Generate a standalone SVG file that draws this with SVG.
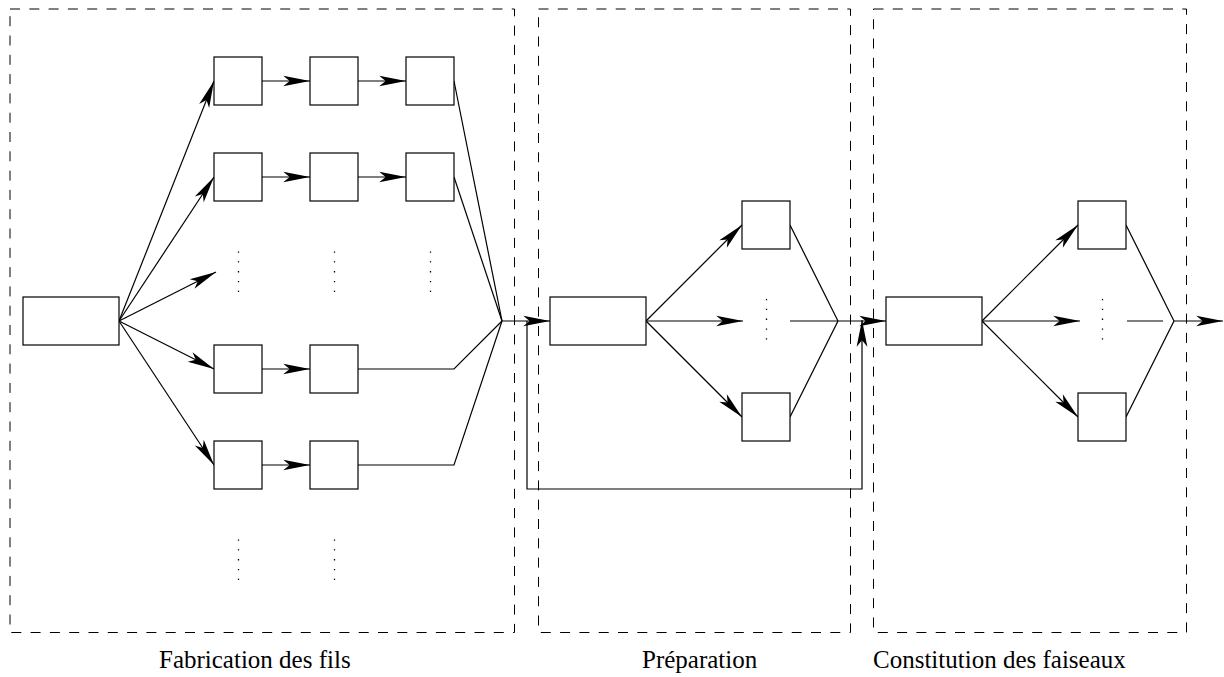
<svg xmlns="http://www.w3.org/2000/svg" width="1224" height="677" viewBox="0 0 1224 677">
<style>
.frame{fill:none;stroke:#000;stroke-width:1;stroke-dasharray:10 9.3}
.box{fill:#fff;stroke:#000;stroke-width:1.2}
.ln{fill:none;stroke:#000;stroke-width:1.2}
.ar{fill:none;stroke:#000;stroke-width:1.2;marker-end:url(#ah)}
.dots{fill:none;stroke:#000;stroke-width:1.3;stroke-dasharray:1.3 8.5}
.lbl{font-family:"Liberation Serif","Times New Roman",serif;font-size:25px;fill:#000}
</style>
<defs>
<marker id="ah" markerUnits="userSpaceOnUse" markerWidth="30" markerHeight="14" viewBox="-26 -6 28 12" refX="0" refY="0" orient="auto" overflow="visible">
<path d="M0,0 L-25,-5 L-19,0 L-25,5 Z" fill="#000"/>
</marker>
</defs>
<g id="frames">
<rect class="frame" x="10" y="9" width="504.5" height="623.5"/>
<rect class="frame" x="538.5" y="9" width="312" height="623.5"/>
<rect class="frame" x="873.5" y="9" width="313" height="623.5"/>
</g>
<g id="connectors">
<line class="ar" x1="119" y1="321" x2="214" y2="81"/>
<line class="ar" x1="119" y1="321" x2="214" y2="177"/>
<line class="ar" x1="119" y1="321" x2="216" y2="272"/>
<line class="ar" x1="119" y1="321" x2="214" y2="369"/>
<line class="ar" x1="119" y1="321" x2="214" y2="465"/>
<line class="ar" x1="262" y1="81" x2="310" y2="81"/>
<line class="ar" x1="358" y1="81" x2="406" y2="81"/>
<line class="ar" x1="262" y1="177" x2="310" y2="177"/>
<line class="ar" x1="358" y1="177" x2="406" y2="177"/>
<line class="ar" x1="262" y1="369" x2="310" y2="369"/>
<line class="ar" x1="262" y1="465" x2="310" y2="465"/>
<line class="ln" x1="454" y1="81" x2="502" y2="321"/>
<line class="ln" x1="454" y1="177" x2="502" y2="321"/>
<polyline class="ln" points="358,369 454,369 502,321"/>
<polyline class="ln" points="358,465 454,465 502,321"/>
<line class="ar" x1="502" y1="321" x2="550" y2="321"/>
<polyline class="ar" points="527,321 527,489 862,489 862,320"/>
<line class="ar" x1="646" y1="321" x2="742" y2="225"/>
<line class="ar" x1="646" y1="321" x2="742" y2="417"/>
<line class="ar" x1="646" y1="321" x2="743" y2="321"/>
<line class="ln" x1="790" y1="321" x2="838" y2="321"/>
<line class="ln" x1="790" y1="225" x2="838" y2="321"/>
<line class="ln" x1="790" y1="417" x2="838" y2="321"/>
<line class="ar" x1="838" y1="321" x2="886" y2="321"/>
<line class="ar" x1="982" y1="321" x2="1078" y2="225"/>
<line class="ar" x1="982" y1="321" x2="1078" y2="417"/>
<line class="ar" x1="982" y1="321" x2="1080" y2="321"/>
<line class="ln" x1="1127" y1="321" x2="1163" y2="321"/>
<line class="ln" x1="1126" y1="225" x2="1174" y2="321"/>
<line class="ln" x1="1126" y1="417" x2="1174" y2="321"/>
<line class="ar" x1="1174" y1="321" x2="1223" y2="321"/>
</g>
<g id="dots">
<line class="dots" x1="238.5" y1="251.5" x2="238.5" y2="292"/>
<line class="dots" x1="334.5" y1="251.5" x2="334.5" y2="292"/>
<line class="dots" x1="430.5" y1="251.5" x2="430.5" y2="292"/>
<line class="dots" x1="238.5" y1="539.5" x2="238.5" y2="580"/>
<line class="dots" x1="334.5" y1="539.5" x2="334.5" y2="580"/>
<line class="dots" x1="766.5" y1="299" x2="766.5" y2="340"/>
<line class="dots" x1="1102.5" y1="299" x2="1102.5" y2="340"/>
</g>
<g id="n-source"><rect class="box" x="23" y="297" width="96" height="48"/></g>
<g id="n-r1c1"><rect class="box" x="214" y="57" width="48" height="48"/></g>
<g id="n-r1c2"><rect class="box" x="310" y="57" width="48" height="48"/></g>
<g id="n-r1c3"><rect class="box" x="406" y="57" width="48" height="48"/></g>
<g id="n-r2c1"><rect class="box" x="214" y="153" width="48" height="48"/></g>
<g id="n-r2c2"><rect class="box" x="310" y="153" width="48" height="48"/></g>
<g id="n-r2c3"><rect class="box" x="406" y="153" width="48" height="48"/></g>
<g id="n-r3c1"><rect class="box" x="214" y="345" width="48" height="48"/></g>
<g id="n-r3c2"><rect class="box" x="310" y="345" width="48" height="48"/></g>
<g id="n-r4c1"><rect class="box" x="214" y="441" width="48" height="48"/></g>
<g id="n-r4c2"><rect class="box" x="310" y="441" width="48" height="48"/></g>
<g id="n-prep"><rect class="box" x="550" y="297" width="96" height="48"/></g>
<g id="n-prep-up"><rect class="box" x="742" y="201" width="48" height="48"/></g>
<g id="n-prep-down"><rect class="box" x="742" y="393" width="48" height="48"/></g>
<g id="n-const"><rect class="box" x="886" y="297" width="96" height="48"/></g>
<g id="n-const-up"><rect class="box" x="1078" y="201" width="48" height="48"/></g>
<g id="n-const-down"><rect class="box" x="1078" y="393" width="48" height="48"/></g>
<g id="labels">
<text class="lbl" x="159" y="668">Fabrication des fils</text>
<text class="lbl" x="642" y="668">Préparation</text>
<text class="lbl" x="873" y="668">Constitution des faiseaux</text>
</g>
</svg>
